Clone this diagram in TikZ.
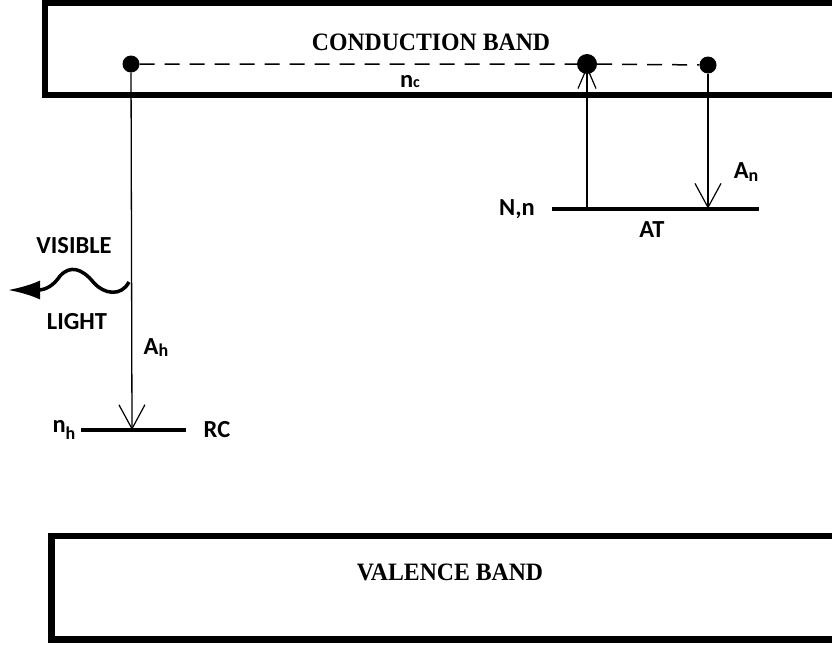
\documentclass[tikz,border=0pt]{standalone}
\usepackage{fontspec}
\setmainfont{Liberation Serif}
\newfontfamily\lblfont{Carlito}
\usetikzlibrary{arrows.meta}

\begin{document}
\begin{tikzpicture}[x=1pt,y=-1pt,
  band/.style={line width=6.5pt},
  level/.style={line width=4pt},
  trans/.style={line width=1.3pt,-{Straight Barb[length=24pt,width=26pt,line width=1.2pt]}},
  dot/.style={circle,fill=black,inner sep=0pt,minimum size=#1},
  lbl/.style={font=\lblfont\bfseries\fontsize{24.5}{27}\selectfont,inner sep=0pt},
  bandlbl/.style={font=\bfseries\fontsize{25}{28}\selectfont,inner sep=0pt}]
\useasboundingbox (0,0) rectangle (832,646);
% bands
\draw[band] (840,2.5) -- (45,2.5) -- (45,95) -- (840,95);
\draw[band] (840,536) -- (51.5,536) -- (51.5,639.5) -- (840,639.5);
\node[bandlbl,xscale=0.95] (cb) at (431,42) {CONDUCTION BAND};
\node[bandlbl,xscale=0.95] (vb) at (450,572) {VALENCE BAND};
% levels
\draw[level] (552,208.7) -- (759,208.7);
\draw[level] (81,430) -- (186,430);
\coordinate (atL) at (587,208.7);
\coordinate (atR) at (708,208.7);
\coordinate (rcM) at (132,430);
\coordinate (cM) at (587,66);
\draw[line width=1.3pt,-{Straight Barb[length=21pt,width=18pt,line width=1.2pt]}] (atL) -- (cM);
% electrons
\node[dot=17pt] (dotL) at (131,64) {};
\node[dot=20pt] (dotM) at (587,64) {};
\node[dot=17pt] (dotR) at (708,65) {};
\draw[line width=1.5pt,dash pattern=on 15pt off 10pt] (dotL) -- (dotM) -- (dotR);
\draw[trans] (dotL) -- (rcM);
\draw[trans] (dotR) -- (atR);
% light
\draw[line width=3.5pt,-{Latex[length=32pt,width=19pt]}] (129,282)
  .. controls (121,297) and (104,294) .. (94,283)
  .. controls (82,268) and (70,265) .. (60,276)
  .. controls (54,285) and (46,290) .. (38,290) -- (8,290);
% labels
\node[lbl] (nc) at (410,82) {n{\fontsize{16}{18}\selectfont c}};
\node[lbl] (vis) at (74,246) {VISIBLE};
\node[lbl] (light) at (77,322) {LIGHT};
\node[lbl] (ah) at (156,348) {A{\fontsize{18}{20}\selectfont\raisebox{-2pt}{h}}};
\node[lbl] (nh) at (64,430) {n{\fontsize{18}{20}\selectfont\raisebox{-7pt}{h}}};
\node[lbl] (rc) at (217,430) {RC};
\node[lbl] (nn) at (517,209) {N,n};
\node[lbl] (at) at (652,230) {AT};
\node[lbl] (an) at (746,172) {A{\fontsize{18}{20}\selectfont\raisebox{-3pt}{n}}};
\end{tikzpicture}
\end{document}
